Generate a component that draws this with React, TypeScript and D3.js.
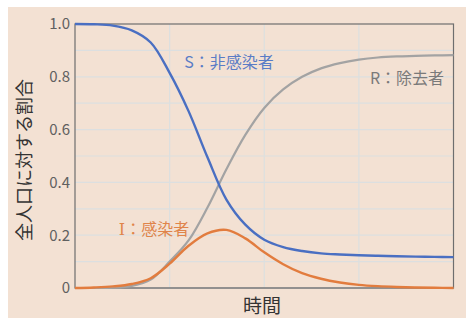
import React from 'react';
import * as d3 from 'd3';

// time steps (arbitrary units, 0..100)
const times = [0, 5, 10, 15, 20, 25, 30, 35, 40, 45, 50, 55, 60, 65, 70, 75, 80, 85, 90, 95, 100];
const susceptible = [1.0, 0.999, 0.994, 0.976, 0.93, 0.815, 0.67, 0.495, 0.335, 0.24, 0.183, 0.155, 0.14, 0.131, 0.127, 0.124, 0.122, 0.12, 0.119, 0.118, 0.117];
const infected = [0, 0.002, 0.006, 0.015, 0.037, 0.092, 0.16, 0.207, 0.22, 0.188, 0.135, 0.09, 0.056, 0.035, 0.021, 0.012, 0.007, 0.004, 0.002, 0.001, 0.0];
const removed = [0, 0, 0.001, 0.008, 0.032, 0.1, 0.18, 0.305, 0.45, 0.58, 0.682, 0.752, 0.8, 0.832, 0.852, 0.865, 0.873, 0.877, 0.879, 0.881, 0.882];
const yTicks = [0, 0.2, 0.4, 0.6, 0.8, 1.0];
const yTickLabels = ['0', '0.2', '0.4', '0.6', '0.8', '1.0'];

const W = 466;
const H = 318;
const margin = { top: 24, right: 12, bottom: 30, left: 75 };
const font = '"Noto Sans CJK JP", "Noto Sans", sans-serif';

export default function App() {
  const x = d3.scaleLinear().domain([0, 100]).range([margin.left, W - margin.right - 0.5]);
  const y = d3.scaleLinear().domain([0, 1]).range([H - margin.bottom, margin.top]);

  const line = (vals: number[]) =>
    d3.line<number>()
      .x((_, i) => x(times[i]))
      .y(d => y(d))
      .curve(d3.curveCatmullRom.alpha(0.5))(vals) || '';

  const minor = d3.range(0.1, 1.0, 0.1);
  const vGrid = [25, 50, 75];

  return (
    <>
      <style>{'body{margin:0}'}</style>
      <svg width={W} height={H} style={{ display: 'block' }}>
        <rect width={W} height={H} fill="#ffffff" />
        <rect x={8} y={7} width={W - 8} height={H - 7} fill="#f3e1d3" />

        {minor.map(v => (
          <line key={'h' + v} x1={x(0)} x2={x(100)} y1={y(v)} y2={y(v)} stroke="#dcdfe0" strokeWidth={1.2} />
        ))}
        {vGrid.map(v => (
          <line key={'v' + v} x1={x(v)} x2={x(v)} y1={y(0)} y2={y(1)} stroke="#dcdfe0" strokeWidth={1.2} />
        ))}

        <rect x={x(0)} y={y(1)} width={x(100) - x(0)} height={y(0) - y(1)} fill="none" stroke="#6e6e6e" strokeWidth={1.2} />
        <line x1={x(0)} x2={x(100)} y1={y(0)} y2={y(0)} stroke="#8c8c8c" strokeWidth={1.5} />

        {yTicks.map((t, i) => (
          <text key={t} x={70} y={y(t)} dy="0.36em" textAnchor="end" fontFamily={font} fontSize={15} fill="#606060">
            {yTickLabels[i]}
          </text>
        ))}

        <path d={line(removed)} fill="none" stroke="#a3a3a3" strokeWidth={2.2} />
        <path d={line(infected)} fill="none" stroke="#e27c3e" strokeWidth={2.4} />
        <path d={line(susceptible)} fill="none" stroke="#4a6fc2" strokeWidth={2.4} />

        <text x={229} y={68} textAnchor="middle" fontFamily={font} fontSize={16} fill="#5a7cc6">S：非感染者</text>
        <text x={407} y={84} textAnchor="middle" fontFamily={font} fontSize={16} fill="#7a7a7a">R：除去者</text>
        <text x={154} y={235} textAnchor="middle" fontFamily={font} fontSize={16} fill="#e0844a">
          <tspan fontFamily='"DejaVu Serif", serif'>I</tspan>：感染者
        </text>

        <text transform="translate(31,160) rotate(-90)" textAnchor="middle" fontFamily={font} fontSize={18} fill="#333333">
          全人口に対する割合
        </text>
        <text x={262} y={313} textAnchor="middle" fontFamily={font} fontSize={19} fill="#333333">時間</text>
      </svg>
    </>
  );
}
